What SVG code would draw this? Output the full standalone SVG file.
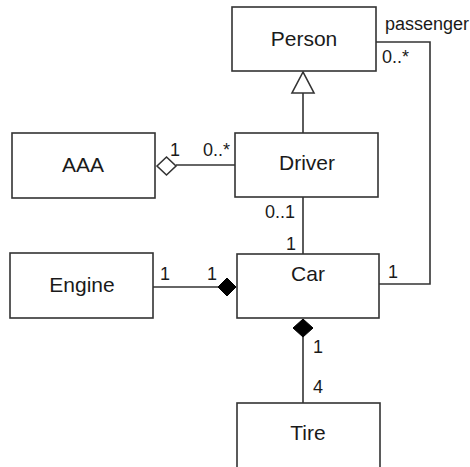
<svg xmlns="http://www.w3.org/2000/svg" width="470" height="467" viewBox="0 0 470 467">
<style>
.box{fill:#fff;stroke:#333;stroke-width:1.6}
.name{font-family:"Liberation Sans",Arial,sans-serif;font-size:21px;fill:#1a1a1a;text-anchor:middle}
.lbl{font-family:"Liberation Sans",Arial,sans-serif;font-size:18px;fill:#1a1a1a}
.ln{fill:none;stroke:#333;stroke-width:1.6}
</style>
<rect width="470" height="467" fill="#fff"/>
<g id="connectors">
<line class="ln" x1="303" y1="93" x2="303" y2="133"/>
<polygon points="303,72 292,93 314,93" fill="#fff" stroke="#333" stroke-width="1.6"/>
<line class="ln" x1="176" y1="165" x2="235" y2="165"/>
<polygon points="157,166 166.5,157 176,166 166.5,175" fill="#fff" stroke="#333" stroke-width="1.6"/>
<line class="ln" x1="303" y1="197" x2="303" y2="254"/>
<line class="ln" x1="153" y1="287" x2="218" y2="287"/>
<polygon points="218,287 227,278 236,287 227,296" fill="#000" stroke="#000" stroke-width="1"/>
<line class="ln" x1="303" y1="337" x2="303" y2="403"/>
<polygon points="303,319 313,328 303,337 293,328" fill="#000" stroke="#000" stroke-width="1"/>
<polyline class="ln" points="376,42 430,42 430,284 379,284"/>
<text class="lbl" x="385" y="30">passenger</text>
<text class="lbl" x="382" y="63">0..*</text>
<text class="lbl" x="170" y="156">1</text>
<text class="lbl" x="203" y="156">0..*</text>
<text class="lbl" x="295" y="218" text-anchor="end">0..1</text>
<text class="lbl" x="296" y="250" text-anchor="end">1</text>
<text class="lbl" x="388" y="278">1</text>
<text class="lbl" x="160" y="280">1</text>
<text class="lbl" x="207" y="280">1</text>
<text class="lbl" x="313" y="353">1</text>
<text class="lbl" x="313" y="393">4</text>
</g>
<g id="Person"><rect class="box" x="232" y="7" width="144" height="64"/><text class="name" x="304" y="46">Person</text></g>
<g id="Driver"><rect class="box" x="235" y="133" width="143" height="64"/><text class="name" x="307" y="170">Driver</text></g>
<g id="AAA"><rect class="box" x="12" y="133" width="143" height="65"/><text class="name" x="83" y="172">AAA</text></g>
<g id="Engine"><rect class="box" x="10" y="253" width="143" height="65"/><text class="name" x="82" y="292">Engine</text></g>
<g id="Car"><rect class="box" x="237" y="254" width="142" height="64"/><text class="name" x="308" y="281">Car</text></g>
<g id="Tire"><rect class="box" x="237" y="403" width="143" height="70"/><text class="name" x="308" y="440">Tire</text></g>
</svg>
